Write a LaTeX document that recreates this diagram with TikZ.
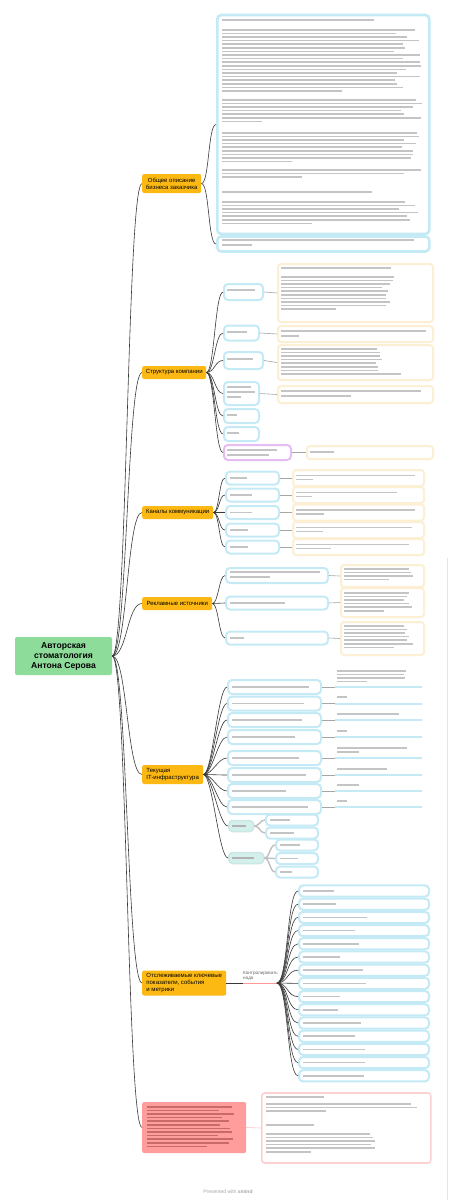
\documentclass[tikz,border=0pt]{standalone}
\usepackage{fontspec}
\setmainfont{Liberation Sans}
\definecolor{rootg}{HTML}{8EDC9A}
\definecolor{topicy}{HTML}{FDB913}
\definecolor{blueb}{HTML}{C4EAF6}
\definecolor{orangeb}{HTML}{FCEFD3}
\definecolor{purpleb}{HTML}{E6BDF2}
\definecolor{pinkb}{HTML}{FAD0D0}
\definecolor{redf}{HTML}{FF9C9C}
\definecolor{greenp}{HTML}{D3F0EC}
\definecolor{txt}{HTML}{C4C4C4}
\definecolor{rtxt}{HTML}{C86A6A}
\tikzset{
  rootbox/.style={fill=rootg, rounded corners=2pt, inner sep=0pt, align=center,
    font=\bfseries\fontsize{8.6}{10}\selectfont},
  topic/.style={fill=topicy, rounded corners=2pt, inner sep=0pt, align=left, anchor=west,
    font=\fontsize{6}{7}\selectfont},
  bbox/.style={draw=blueb, line width=2pt, fill=white, rounded corners=4pt, inner sep=0pt, anchor=west},
  obox/.style={draw=orangeb, line width=2pt, fill=white, rounded corners=3pt, inner sep=0pt, anchor=west},
  pbox/.style={draw=purpleb, line width=2pt, fill=white, rounded corners=4pt, inner sep=0pt, anchor=west},
  gbox/.style={draw=greenp!80!black!20!greenp, fill=greenp, line width=1.5pt, rounded corners=4pt, inner sep=0pt, anchor=west},
  conn/.style={draw=black!78, line width=0.6pt},
  sconn/.style={draw=black!35, line width=0.6pt},
  gconn/.style={draw=black!25, line width=1.4pt},
}
\newcommand\tbar[3]{\fill[txt] (#1,#2) rectangle ++(#3,1.5);}
\newcommand\tpara[5]{%
  \foreach \i in {1,...,#3}{%
    \pgfmathsetmacro\ww{\i==#3 ? #5 : #4*(0.86+0.14*rnd)}%
    \fill[txt] (#1,{#2+3.6*(\i-1)}) rectangle ++(\ww,1.5);}}
\begin{document}
\begin{tikzpicture}[x=1pt,y=-1pt]
\pgfmathsetseed{4711}
\useasboundingbox (0,0) rectangle (456,1200);
\fill[white] (0,0) rectangle (456,1200);
\draw[black!10, line width=0.6pt] (447,558) -- (447,1200);

% ---------- root and topics ----------
\node[rootbox, minimum width=97, minimum height=38] (root) at (63.5,656) {Авторская\\стоматология\\Антона Серова};
\node[topic, align=center, minimum width=59, minimum height=19] (t1) at (142,183.5) {Общее описание\\бизнеса заказчика};
\node[topic, minimum width=64, minimum height=13] (t2) at (142,372.5) {Структура компании};
\node[topic, minimum width=71, minimum height=13] (t3) at (142,512.5) {Каналы коммуникации};
\node[topic, minimum width=70, minimum height=13] (t4) at (142,603.5) {Рекламные источники};
\node[topic, minimum width=61, minimum height=19] (t5) at (142,774.5) {Текущая\\IT-инфраструктура};
\node[topic, minimum width=84, minimum height=25] (t6) at (142,983) {Отслеживаемые ключевые\\показатели, события\\и метрики};
\node[topic, fill=redf, minimum width=104, minimum height=51] (t7) at (142,1127.5) {};
\foreach \k in {0,...,11}{\pgfmathsetmacro\ww{\k==11 ? 60 : 88*(0.8+0.2*rnd)}
  \fill[rtxt] (147,{1106+3.6*\k}) rectangle ++(\ww,1.5);}

\foreach \t in {t1,t2,t3,t4,t5,t6,t7}
  \draw[conn] (root.east) .. controls +(15,0) and +(-15,0) .. (\t.west);

% ---------- branch 1 ----------
\node[bbox, line width=2.6pt, minimum width=212, minimum height=219] (b11) at (216,124.5) {};
\node[bbox, line width=2.6pt, minimum width=212, minimum height=15] (b12) at (216,244) {};
\draw[conn] (t1.east) .. controls +(8,0) and +(-8,0) .. (b11.west);
\draw[conn] (t1.east) .. controls +(8,0) and +(-8,0) .. (b12.west);
\tbar{222}{19}{152}
\tpara{222}{29}{18}{200}{120}
\tpara{222}{99}{7}{200}{40}
\tpara{222}{132}{9}{200}{70}
\tpara{222}{169}{3}{200}{80}
\tbar{222}{191}{150}
\tpara{222}{201}{7}{196}{90}
\tbar{222}{239}{192}
\tbar{222}{244}{30}

% ---------- branch 2 ----------
\node[bbox, minimum width=39, minimum height=16] (c21) at (223,292) {};
\node[bbox, minimum width=35, minimum height=15] (c22) at (223,333) {};
\node[bbox, minimum width=39, minimum height=17] (c23) at (223,360.5) {};
\node[bbox, minimum width=35, minimum height=23] (c24) at (223,393.5) {};
\node[bbox, minimum width=35, minimum height=14] (c25) at (223,416) {};
\node[bbox, minimum width=35, minimum height=14] (c26) at (223,434) {};
\node[pbox, minimum width=67, minimum height=15] (c27) at (223,452.5) {};
\foreach \c in {c21,c22,c23,c24,c25,c26,c27}
  \draw[conn] (t2.east) .. controls +(8,0) and +(-8,0) .. (\c.west);
\node[obox, minimum width=155, minimum height=58] (d21) at (277,293) {};
\node[obox, minimum width=155, minimum height=16] (d22) at (277,334) {};
\node[obox, minimum width=155, minimum height=35] (d23) at (277,362.5) {};
\node[obox, minimum width=155, minimum height=17] (d24) at (277,394.5) {};
\node[obox, minimum width=126, minimum height=13] (d27) at (306,452.5) {};
\draw[sconn] (c21.east) -- (d21.west);
\draw[sconn] (c22.east) -- (d22.west);
\draw[sconn] (c23.east) -- (d23.west);
\draw[sconn] (c24.east) -- (d24.west);
\draw[sconn] (c27.east) -- (d27.west);
\tbar{227}{289}{28}
\tbar{227}{331}{20}
\tbar{227}{358}{26}
\tbar{227}{386}{24}\tbar{227}{391}{28}\tbar{227}{396}{14}
\tbar{227}{414}{10}
\tbar{227}{432}{12}
\tbar{227}{449}{50}\tbar{227}{454}{42}
\tbar{281}{267}{110}
\tpara{281}{276}{10}{115}{55}
\tbar{281}{330}{145}\tbar{281}{335}{18}
\tpara{281}{348}{8}{105}{120}
\tbar{281}{390}{140}\tbar{281}{395}{70}
\tbar{310}{451}{24}

% ---------- branch 3 ----------
\foreach \y [count=\k] in {478,495,512.5,530,547}{
  \node[bbox, minimum width=53, minimum height=13] (c3\k) at (225,\y) {};
  \node[obox, minimum width=131, minimum height=16] (d3\k) at (292,\y) {};
  \draw[conn] (t3.east) .. controls +(6,0) and +(-6,0) .. (c3\k.west);
  \draw[sconn] (c3\k.east) -- (d3\k.west);
  \pgfmathsetmacro\ww{14+10*rnd}
  \fill[txt] (230,\y-0.8) rectangle ++(\ww,1.5);
  \pgfmathsetmacro\wb{100+20*rnd}
  \pgfmathsetmacro\wc{15+25*rnd}
  \fill[txt] (296,\y-3.5) rectangle ++(\wb,1.5);
  \fill[txt] (296,\y+0.5) rectangle ++(\wc,1.5);
}

% ---------- branch 4 ----------
\node[bbox, minimum width=102, minimum height=15] (c41) at (225,575.5) {};
\node[bbox, minimum width=102, minimum height=13] (c42) at (225,603) {};
\node[bbox, minimum width=102, minimum height=13] (c43) at (225,638) {};
\foreach \c in {c41,c42,c43}
  \draw[conn] (t4.east) .. controls +(6,0) and +(-6,0) .. (\c.west);
\node[obox, minimum width=83, minimum height=22] (d41) at (340,576) {};
\node[obox, minimum width=83, minimum height=29] (d42) at (340,602.5) {};
\node[obox, minimum width=83, minimum height=33] (d43) at (340,638.5) {};
\draw[sconn] (c41.east) -- (d41.west);
\draw[sconn] (c42.east) -- (d42.west);
\draw[sconn] (c43.east) -- (d43.west);
\tbar{230}{571}{90}\tbar{230}{576}{40}
\tbar{230}{602}{55}
\tbar{230}{637}{14}
\tpara{344}{568}{4}{70}{45}
\tpara{344}{592}{6}{70}{40}
\tpara{344}{625}{7}{70}{50}

% ---------- branch 5 ----------
\foreach \y [count=\k] in {687,703.5,720,737,758,775,791,807}{
  \node[bbox, minimum width=93, minimum height=14] (c5\k) at (227,\y) {};
  \draw[conn] (t5.east) .. controls +(9,0) and +(-9,0) .. (c5\k.west);
  \coordinate (u5\k) at (335,\y);
  \draw[sconn] (c5\k.east) -- (u5\k);
  \draw[blueb, line width=2pt] (u5\k) -- ++(87,0);
  \pgfmathsetmacro\ww{45+35*rnd}
  \fill[txt] (232,\y-0.8) rectangle ++(\ww,1.5);
}
\tpara{337}{670}{4}{75}{30}
\tbar{337}{696}{10}
\tbar{337}{713}{62}
\tbar{337}{730}{10}
\tbar{337}{747}{70}\tbar{337}{751}{22}
\tbar{337}{768}{50}
\tbar{337}{784}{22}
\tbar{337}{800}{10}
\node[gbox, minimum width=25, minimum height=11] (g1) at (228,826) {};
\node[gbox, minimum width=35, minimum height=11] (g2) at (228,858) {};
\draw[conn] (t5.east) .. controls +(9,0) and +(-9,0) .. (g1.west);
\draw[conn] (t5.east) .. controls +(9,0) and +(-9,0) .. (g2.west);
\node[bbox, minimum width=52, minimum height=11] (s11) at (265,820) {};
\node[bbox, minimum width=52, minimum height=11] (s12) at (265,833) {};
\node[bbox, minimum width=42, minimum height=11] (s21) at (275,845) {};
\node[bbox, minimum width=42, minimum height=11] (s22) at (275,858.5) {};
\node[bbox, minimum width=42, minimum height=11] (s23) at (275,872) {};
\foreach \s in {s11,s12} \draw[gconn] (g1.east) .. controls +(5,0) and +(-5,0) .. (\s.west);
\foreach \s in {s21,s22,s23} \draw[gconn] (g2.east) .. controls +(5,0) and +(-5,0) .. (\s.west);
\fill[black!30] (232,825.2) rectangle ++(14,1.5);
\fill[black!30] (232,857.2) rectangle ++(22,1.5);
\tbar{270}{819.2}{20}\tbar{270}{832.2}{24}
\tbar{280}{844.2}{20}\tbar{280}{857.7}{18}\tbar{280}{871.2}{12}

% ---------- branch 6 ----------
\coordinate (f6) at (277,983);
\draw[conn] (t6.east) -- (243,983);
\draw[draw=red!40, line width=0.8pt] (243,983) -- (f6);
\node[anchor=south west, inner sep=0pt, text=black!60, font=\fontsize{4.6}{5.2}\selectfont, align=left] (lab6) at (243,980.5) {Контролировать\\надо};
\foreach \k in {0,...,14}{
  \node[bbox, minimum width=130, minimum height=11.2] (c6\k) at (298,{891+13.2*\k}) {};
  \draw[conn] (f6) .. controls +(11,0) and +(-11,0) .. (c6\k.west);
  \pgfmathsetmacro\ww{30+35*rnd}
  \fill[txt] (303,{891+13.2*\k-0.8}) rectangle ++(\ww,1.5);
}

% ---------- branch 7 ----------
\node[draw=pinkb, line width=1.6pt, fill=white, rounded corners=3pt, inner sep=0pt, anchor=west,
  minimum width=169, minimum height=70] (d7) at (261,1128) {};
\draw[sconn, draw=red!25] (t7.east) -- (d7.west);
\tbar{266}{1096}{58}
\tpara{266}{1103}{3}{156}{60}
\tbar{266}{1124}{48}
\tpara{266}{1133}{6}{110}{45}

% ---------- footer ----------
\node[text=black!35, font=\fontsize{5}{6}\selectfont, inner sep=0pt] (foot) at (228,1192) {Presented with \textbf{xmind}};
\end{tikzpicture}
\end{document}
